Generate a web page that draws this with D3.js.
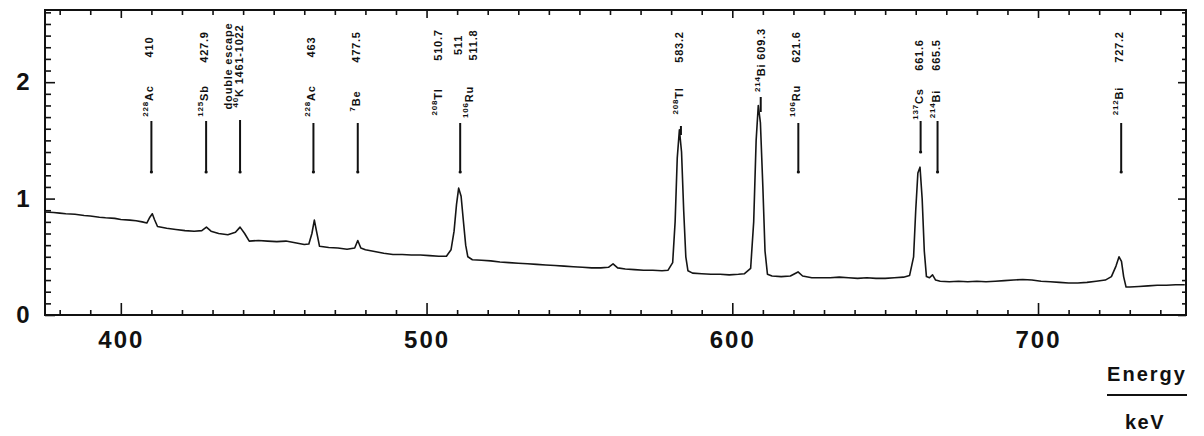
<!DOCTYPE html>
<html>
<head>
<meta charset="utf-8">
<script src="https://cdn.jsdelivr.net/npm/d3@7"></script>
<style>
  html, body { margin: 0; padding: 0; background: #fff; }
  svg { display: block; }
  text { font-family: "Liberation Sans", Arial, sans-serif; font-weight: bold; fill: #111; }
</style>
</head>
<body>
<svg id="chart" width="1204" height="436"></svg>
<script>
// ---------------- data ----------------
const energy = [375,378,380,382,385,388,390,393,395,398,400,403,405,407,408.5,409.5,410.3,411,412,415,418,421,424,426.5,428,429.5,432,435,437.5,439,440.5,442,445,448,451,454,457,460,461.5,462.5,463.3,464,465,468,471,474,476.5,477.5,478.5,480,483,486,489,492,495,498,501,504,506.5,508,509,509.8,510.5,511.3,512,512.8,513.5,515,518,521,524,527,530,533,536,539,542,545,548,551,554,557,559.5,561,562.5,565,568,571,574,577,579,580.5,581.3,582,582.7,583.4,584.1,584.8,585.5,587,590,593,596,599,602,604,606,607,607.8,608.5,609.2,610,610.7,611.5,613,616,619,621.5,623,626,629,632,635,638,641,644,647,650,653,656,658,659.3,660,660.7,661.4,662.1,662.8,663.5,664.5,665.5,666.5,668,671,674,677,680,683,686,689,692,695,698,701,704,707,710,713,716,719,722,724,725.5,726.5,727.3,728,728.8,730,733,736,739,742,745,748];
const counts = [0.885,0.88,0.875,0.87,0.865,0.855,0.85,0.84,0.835,0.83,0.82,0.815,0.81,0.8,0.79,0.84,0.87,0.82,0.76,0.745,0.735,0.725,0.72,0.725,0.755,0.72,0.7,0.69,0.71,0.755,0.7,0.635,0.64,0.635,0.63,0.635,0.62,0.605,0.61,0.7,0.815,0.72,0.59,0.58,0.575,0.565,0.575,0.64,0.575,0.56,0.545,0.53,0.52,0.52,0.515,0.515,0.51,0.505,0.505,0.56,0.72,0.95,1.09,1.02,0.82,0.6,0.5,0.475,0.47,0.465,0.455,0.45,0.445,0.44,0.435,0.43,0.425,0.42,0.415,0.41,0.405,0.405,0.41,0.44,0.405,0.395,0.39,0.385,0.385,0.38,0.385,0.45,0.8,1.35,1.59,1.4,0.9,0.5,0.38,0.36,0.355,0.35,0.35,0.345,0.35,0.355,0.4,0.8,1.5,1.8,1.65,1.1,0.55,0.35,0.335,0.33,0.335,0.37,0.335,0.32,0.32,0.32,0.325,0.32,0.315,0.32,0.315,0.315,0.32,0.325,0.34,0.5,0.9,1.22,1.27,1.0,0.55,0.33,0.32,0.345,0.3,0.29,0.285,0.29,0.285,0.29,0.285,0.29,0.295,0.3,0.305,0.3,0.29,0.285,0.28,0.275,0.275,0.28,0.29,0.3,0.33,0.42,0.5,0.46,0.33,0.24,0.24,0.245,0.25,0.255,0.255,0.26,0.26];

const xMajorTicks = [400, 500, 600, 700];
const yMajorTicks = [0, 1, 2];

// peak annotations
const lineEnergies = [410, 427.9, 439, 463, 477.5, 511, 583.2, 609.3, 621.6, 661.6, 665.5, 727.2];
const energyLabels = ["410", "427.9", "1461-1022", "463", "477.5", "511", "583.2", "609.3", "621.6", "661.6", "665.5", "727.2"];
const nuclideMass = ["228", "125", "40", "228", "7", "106", "208", "214", "106", "137", "214", "212"];
const nuclideSymbol = ["Ac", "Sb", "K", "Ac", "Be", "Ru", "Tl", "Bi", "Ru", "Cs", "Bi", "Bi"];
// extra labels of the 511 keV group and the escape note
const extraEnergyLabels = ["510.7", "511.8"];
const extraNuclide = ["208", "Tl"];
const escapeNote = "double escape";

// ---------------- layout ----------------
const svg = d3.select("#chart");
const L = 45, R = 1186, T = 10, B = 315;
const x = d3.scaleLinear().domain([375.2, 748.4]).range([L, R]);
const y = d3.scaleLinear().domain([0, 2.62]).range([B, T]);

const xMinor = d3.range(380, 749, 10).filter(v => v % 100 !== 0);
const yMinor = d3.range(1, 27).map(v => v / 10).filter(v => Math.abs(v - Math.round(v)) > 1e-6);

function styleAxis(g) {
  g.select(".domain").remove();
  g.selectAll(".tick line").attr("stroke", "#111").attr("stroke-width", 1.6);
}

// bottom axis
svg.append("g").attr("transform", `translate(0,${B})`)
  .call(d3.axisBottom(x).tickValues(xMinor).tickSize(-5).tickFormat(""))
  .call(styleAxis);
svg.append("g").attr("transform", `translate(0,${B})`)
  .call(d3.axisBottom(x).tickValues(xMajorTicks).tickSize(-12).tickPadding(16).tickFormat(d3.format("d")))
  .call(styleAxis)
  .call(g => g.selectAll("text").attr("font-size", 24).attr("letter-spacing", 2)
     .attr("font-family", "Liberation Sans, Arial, sans-serif").attr("font-weight", "bold").attr("fill", "#111"));
// top axis
svg.append("g").attr("transform", `translate(0,${T})`)
  .call(d3.axisTop(x).tickValues(xMinor).tickSize(-5).tickFormat(""))
  .call(styleAxis);
svg.append("g").attr("transform", `translate(0,${T})`)
  .call(d3.axisTop(x).tickValues(xMajorTicks).tickSize(-8).tickFormat(""))
  .call(styleAxis);
// left axis
svg.append("g").attr("transform", `translate(${L},0)`)
  .call(d3.axisLeft(y).tickValues(yMinor).tickSize(-6).tickFormat(""))
  .call(styleAxis);
svg.append("g").attr("transform", `translate(${L},0)`)
  .call(d3.axisLeft(y).tickValues(yMajorTicks).tickSize(-10).tickPadding(14).tickFormat(d3.format("d")))
  .call(styleAxis)
  .call(g => g.selectAll("text").attr("font-size", 24).attr("text-anchor", "middle").attr("x", -22)
     .attr("font-family", "Liberation Sans, Arial, sans-serif").attr("font-weight", "bold").attr("fill", "#111"));
// right axis
svg.append("g").attr("transform", `translate(${R},0)`)
  .call(d3.axisRight(y).tickValues(yMinor).tickSize(-4).tickFormat(""))
  .call(styleAxis);
svg.append("g").attr("transform", `translate(${R},0)`)
  .call(d3.axisRight(y).tickValues(yMajorTicks).tickSize(-8).tickFormat(""))
  .call(styleAxis);

// frame
svg.append("rect").attr("x", L).attr("y", T).attr("width", R - L).attr("height", B - T)
  .attr("fill", "none").attr("stroke", "#111").attr("stroke-width", 2);

// spectrum
const pts = energy.map((e, i) => [e, counts[i]]);
svg.append("path").datum(pts)
  .attr("fill", "none").attr("stroke", "#151515").attr("stroke-width", 1.6).attr("stroke-linejoin", "round")
  .attr("d", d3.line().x(d => x(d[0])).y(d => y(d[1])));

// ---------------- annotations ----------------
const ann = svg.append("g");
function vtext(cx, cy, parts, size) {
  const t = ann.append("text")
    .attr("transform", `translate(${cx},${cy}) rotate(-90)`)
    .attr("text-anchor", "middle").attr("dominant-baseline", "central")
    .attr("font-size", size || 11).attr("letter-spacing", 0.8);
  parts.forEach(p => {
    if (p.sup) t.append("tspan").attr("font-size", 8).attr("dy", -4).text(p.t);
    else t.append("tspan").attr("dy", p.after ? 4 : 0).text(p.t);
  });
  return t;
}
function nuc(m, s) { return [{ t: m, sup: true }, { t: s, after: true }]; }

lineEnergies.forEach((e, i) => {
  let cx = x(e);
  if (i === 10) cx += 5;
  let yTop = 123, yBot = 172;
  if (i === 2) {
    vtext(cx - 12, 66, [{ t: escapeNote }]);
    vtext(cx - 1, 66, nuc(nuclideMass[i], nuclideSymbol[i]).concat([{ t: " " + energyLabels[i] }]));
    yTop = 120;
  } else if (i === 5) {
    vtext(cx - 22, 45, [{ t: extraEnergyLabels[0] }]);
    vtext(cx - 2, 45, [{ t: energyLabels[i] }]);
    vtext(cx + 13, 45, [{ t: extraEnergyLabels[1] }]);
    vtext(cx - 22, 102, nuc(extraNuclide[0], extraNuclide[1]));
    vtext(cx + 9, 102, nuc(nuclideMass[i], nuclideSymbol[i]));
  } else if (i === 7) {
    vtext(cx, 60, nuc(nuclideMass[i], nuclideSymbol[i]).concat([{ t: " " + energyLabels[i] }]));
    yTop = 97; yBot = 112;
  } else {
    const ey = (i === 9 || i === 10) ? 55 : 47;
    const ny = (i === 9 || i === 10) ? 104 : 101;
    vtext(cx - 2, ey, [{ t: energyLabels[i] }]);
    vtext(cx - 2, ny, nuc(nuclideMass[i], nuclideSymbol[i]));
    if (i === 6) { yTop = 126; yBot = 135; }
    if (i === 9) { yTop = 121; yBot = 152; }
    if (i === 10 || i === 0 || i === 1) yTop = 121;
  }
  ann.append("line").attr("x1", cx).attr("x2", cx).attr("y1", yTop).attr("y2", yBot)
    .attr("stroke", "#111").attr("stroke-width", 2);
  if (i !== 7 && i !== 6) ann.append("circle").attr("cx", cx).attr("cy", yBot).attr("r", 1.6).attr("fill", "#111");
});

// axis title
svg.append("text").attr("x", 1147).attr("y", 381).attr("text-anchor", "middle")
  .attr("font-size", 20).attr("letter-spacing", 2).text("Energy");
svg.append("line").attr("x1", 1107).attr("x2", 1187).attr("y1", 395).attr("y2", 395)
  .attr("stroke", "#111").attr("stroke-width", 2);
svg.append("text").attr("x", 1145).attr("y", 429).attr("text-anchor", "middle")
  .attr("font-size", 20).attr("letter-spacing", 1.5).text("keV");
</script>
</body>
</html>
